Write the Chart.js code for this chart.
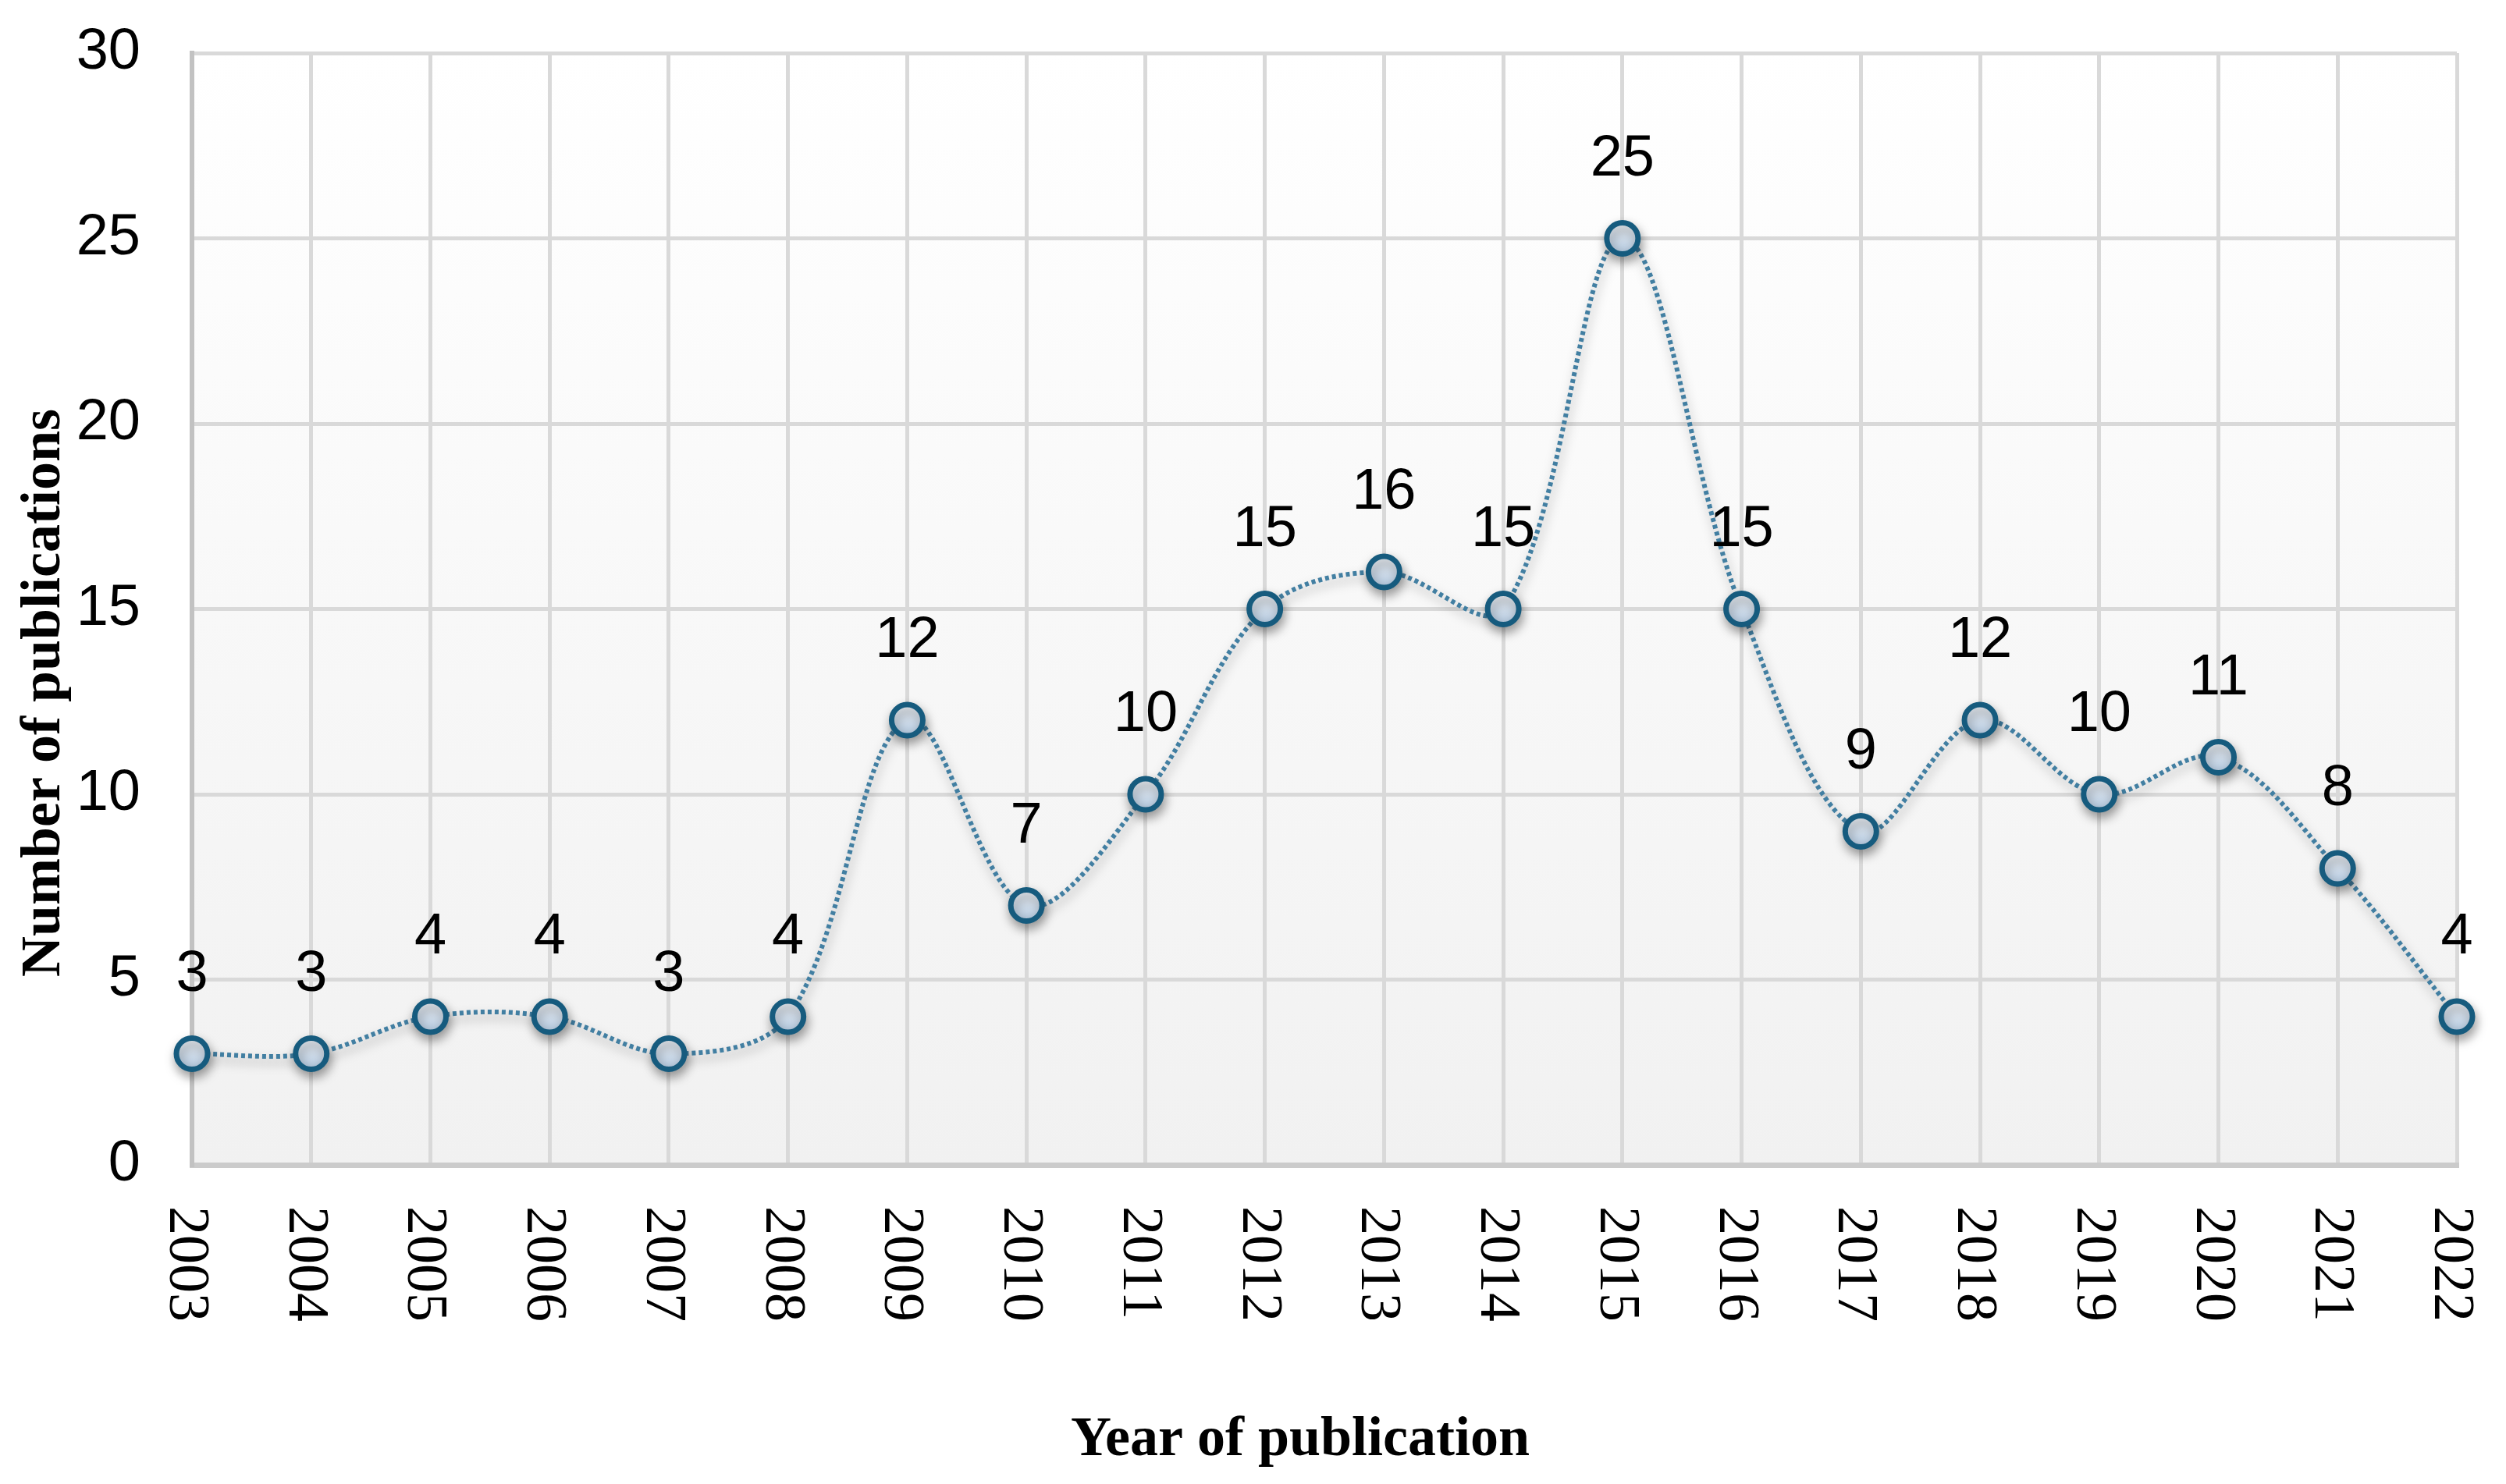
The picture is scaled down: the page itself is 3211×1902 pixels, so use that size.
<!DOCTYPE html>
<html>
<head>
<meta charset="utf-8">
<script src="https://cdn.jsdelivr.net/npm/chart.js@4.4.1/dist/chart.umd.min.js"></script>
<style>
  html, body { margin: 0; padding: 0; background: #fff; }
  #wrap { width: 3211px; height: 1902px; }
</style>
</head>
<body>
<div id="wrap"><canvas id="chart" width="3211" height="1902"></canvas></div>
<script>
// === Data ===
const years = ['2003', '2004', '2005', '2006', '2007', '2008', '2009', '2010', '2011', '2012',
               '2013', '2014', '2015', '2016', '2017', '2018', '2019', '2020', '2021', '2022'];
const publications = [3, 3, 4, 4, 3, 4, 12, 7, 10, 15, 16, 15, 25, 15, 9, 12, 10, 11, 8, 4];
const yMin = 0;
const yMax = 30;
const yStep = 5;
const xTitle = 'Year of publication';
const yTitle = 'Number of publications';

// === Fonts ===
const sansFont = '74px "Liberation Sans", Arial, sans-serif';
const serifFont = '74px "Liberation Serif", "Times New Roman", serif';
const titleFont = 'bold 72px "Liberation Serif", "Times New Roman", serif';

// light blue fill for the markers, shaded top to bottom
function pointFill(ctx) {
  if (ctx.type !== 'data') return '#d3dfec';
  const y = ctx.chart.scales.y.getPixelForValue(ctx.parsed.y);
  if (!Number.isFinite(y)) return '#d3dfec';
  const g = ctx.chart.ctx.createLinearGradient(0, y - 17, 0, y + 17);
  g.addColorStop(0, '#edf2f8');
  g.addColorStop(1, '#b7cbe0');
  return g;
}

// === Plugins ===
const plotBackground = {
  id: 'plotBackground',
  beforeDraw(chart) {
    const { ctx, chartArea: a } = chart;
    if (!a) return;
    const g = ctx.createLinearGradient(0, a.top, 0, a.bottom);
    g.addColorStop(0, '#ffffff');
    g.addColorStop(1, '#f1f1f1');
    ctx.save();
    ctx.fillStyle = g;
    ctx.fillRect(a.left, a.top, a.right - a.left, a.bottom - a.top);
    ctx.restore();
  }
};

const markerShadow = {
  id: 'markerShadow',
  beforeDatasetsDraw(chart) {
    const ctx = chart.ctx;
    ctx.save();
    ctx.shadowColor = 'rgba(0, 0, 0, 0.35)';
    ctx.shadowBlur = 14;
    ctx.shadowOffsetX = 2;
    ctx.shadowOffsetY = 7;
  },
  afterDatasetsDraw(chart) {
    chart.ctx.restore();
  }
};

const textLayer = {
  id: 'textLayer',
  afterDraw(chart) {
    const { ctx, scales } = chart;
    ctx.save();
    ctx.fillStyle = '#000';

    // value labels above each point
    ctx.font = sansFont;
    ctx.textAlign = 'center';
    ctx.textBaseline = 'alphabetic';
    chart.getDatasetMeta(0).data.forEach((pt, i) => {
      ctx.fillText(String(publications[i]), pt.x, pt.y - 81);
    });

    // year labels, rotated to read downwards
    ctx.font = serifFont;
    ctx.textAlign = 'left';
    years.forEach((label, i) => {
      const x = scales.x.getPixelForTick(i);
      ctx.save();
      ctx.translate(x - 28, scales.x.top + 53);
      ctx.rotate(Math.PI / 2);
      ctx.fillText(label, 0, 0);
      ctx.restore();
    });

    // axis titles
    ctx.font = titleFont;
    ctx.textAlign = 'center';
    ctx.fillText(xTitle, 1666, 1865);
    ctx.save();
    ctx.translate(76, 888);
    ctx.rotate(-Math.PI / 2);
    ctx.fillText(yTitle, 0, 0);
    ctx.restore();

    ctx.restore();
  }
};

// === Chart ===
const chart = new Chart(document.getElementById('chart'), {
  type: 'line',
  data: {
    labels: years,
    datasets: [{
      data: publications,
      borderColor: '#427fa2',
      borderWidth: 6,
      borderDash: [5, 4],
      tension: 0.35,
      fill: false,
      clip: false,
      pointRadius: 20,
      pointHoverRadius: 20,
      pointBorderWidth: 7,
      pointBorderColor: '#165b7e',
      pointBackgroundColor: pointFill
    }]
  },
  options: {
    responsive: false,
    animation: false,
    devicePixelRatio: 1,
    layout: { padding: { top: 68, right: 63, left: 0, bottom: 0 } },
    plugins: {
      legend: { display: false },
      tooltip: { enabled: false }
    },
    scales: {
      x: {
        offset: false,
        grid: { color: '#d9d9d9', lineWidth: 5, drawTicks: false },
        border: { color: '#cbcbcb', width: 7 },
        ticks: { display: false },
        afterFit(s) { s.height = 409; }
      },
      y: {
        min: yMin,
        max: yMax,
        ticks: {
          stepSize: yStep,
          padding: 0,
          color: '#000',
          font: { family: '"Liberation Sans", Arial, sans-serif', size: 74 }
        },
        // invisible tick marks keep the labels clear of the axis
        grid: { color: '#d9d9d9', lineWidth: 5, drawTicks: true, tickLength: 66, tickColor: 'rgba(0,0,0,0)' },
        border: { color: '#c2c2c2', width: 6 },
        afterFit(s) { s.width = 246; }
      }
    }
  },
  plugins: [plotBackground, markerShadow, textLayer]
});
</script>
</body>
</html>
